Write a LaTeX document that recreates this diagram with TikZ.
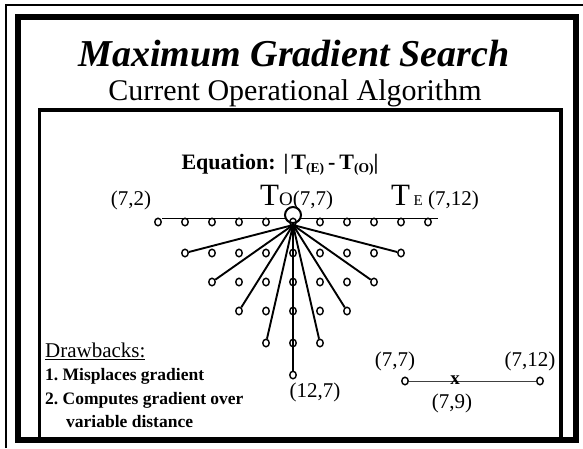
\documentclass[tikz,border=0pt]{standalone}
\usepackage{fontspec}
\setmainfont{Liberation Serif}
\usetikzlibrary{shapes.geometric}
\newcommand\lowsub[1]{\raisebox{-3.5pt}{\fontsize{13.5}{13.5}\selectfont #1}}
\begin{document}
\begin{tikzpicture}[x=1pt,y=-1pt,
  dot/.style={draw,ellipse,line width=1.4pt,inner sep=0pt,minimum width=6.5pt,minimum height=7.5pt},
  ray/.style={line width=1.9pt},
  lbl/.style={inner sep=0pt,anchor=base,font=\fontsize{21}{21}\selectfont},
  item/.style={inner sep=0pt,anchor=base west,font=\fontsize{17.5}{17.5}\selectfont\bfseries},
]
\useasboundingbox (0,0) rectangle (583,448);
% frames
\draw[line width=1.2pt] (6,448) -- (6,5) -- (583,5);
\draw[line width=6pt] (18,16.5) rectangle (575.5,440);
\draw[line width=3.5pt] (39.5,440) -- (39.5,110) -- (561,110) -- (561,440);
% titles
\node[anchor=base,inner sep=0,font=\fontsize{38}{38}\selectfont\bfseries\itshape] (title) at (294,66) {Maximum Gradient Search};
\node[anchor=base,inner sep=0,font=\fontsize{30}{30}\selectfont] (subtitle) at (295,100) {Current Operational Algorithm};
\node[lbl] (eq) at (280,169) {\fontsize{22}{22}\selectfont\bfseries Equation:\hspace{8pt}|\hspace{3pt}T\lowsub{(E)}\hspace{4pt}-\hspace{4pt}T\lowsub{(O)}|};
% labels
\node[lbl] (l72) at (131,205) {(7,2)};
\node[lbl,anchor=base west] (lto) at (260,205) {{\fontsize{31}{31}\selectfont T}{\fontsize{19}{19}\selectfont O}(7,7)};
\node[lbl,anchor=base west] (lte) at (391,205) {{\fontsize{31}{31}\selectfont T}\,{\fontsize{15}{15}\selectfont E}\ (7,12)};
% top line
\coordinate (hl) at (162,218.5);
\coordinate (hr) at (438,218.5);
\draw[line width=1.9pt] (hl) -- (hr);
\node[draw,circle,fill=white,line width=2pt,minimum size=16pt,inner sep=0pt] (big) at (293,215) {};
% dots
\foreach \r/\y/\n in {1/222/5,2/253/4,3/282/3,4/311/2,5/343/1} {
  \foreach \k in {-\n,...,\n} {
    \pgfmathtruncatemacro{\i}{\k+5}
    \node[dot] (d\r c\i) at ({293+27*\k},\y) {};
  }
}
\node[dot] (d6c5) at (293,375) {};
\coordinate (hub) at (293,225);
\foreach \r/\a/\b in {2/1/9,3/2/8,4/3/7,5/4/6} {
  \draw[ray] (hub) -- (d\r c\a);
  \draw[ray] (hub) -- (d\r c\b);
}
\draw[ray] (hub) -- (d6c5);
\node[lbl] (l127) at (315,397) {(12,7)};
% bottom right
\node[dot] (p1) at (405,381) {};
\node[dot] (p2) at (540,381) {};
\draw[line width=0.9pt,black!75] (p1) -- (p2);
\node[inner sep=0pt,font=\fontsize{19}{19}\selectfont\bfseries] (px) at (455,380) {x};
\node[lbl] (lp1) at (395,366) {(7,7)};
\node[lbl] (lp2) at (530,366) {(7,12)};
\node[lbl] (lpx) at (452,408) {(7,9)};
% drawbacks
\node[inner sep=0pt,anchor=base west,font=\fontsize{21}{21}\selectfont] (dr) at (45,357) {\underline{Drawbacks:}};
\node[item] (i1) at (45,380) {1.\ Misplaces gradient};
\node[item] (i2) at (45,404) {2.\ Computes gradient over};
\node[item] (i3) at (66,427) {variable distance};
\end{tikzpicture}
\end{document}
